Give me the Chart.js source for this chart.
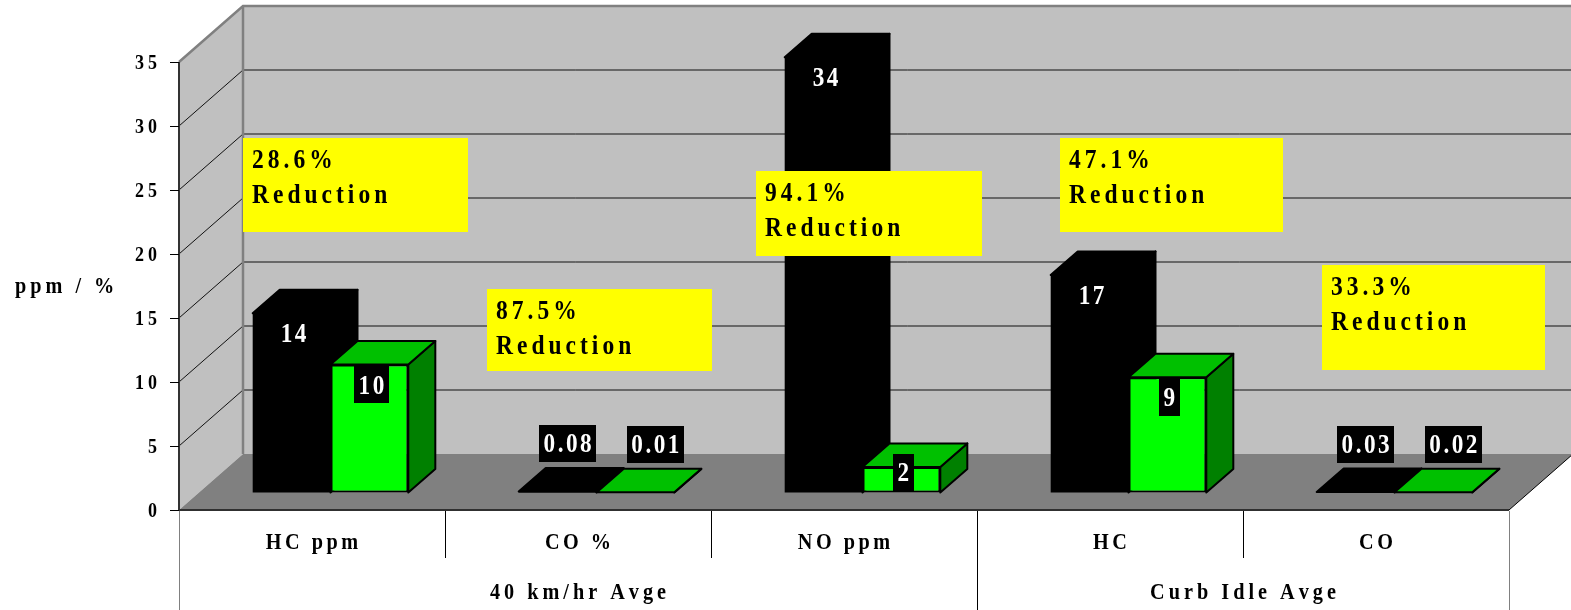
<!DOCTYPE html>
<html>
<head>
<meta charset="utf-8">
<script src="https://cdn.jsdelivr.net/npm/chart.js@4.4.1/dist/chart.umd.min.js"></script>
<style>
  html, body { margin: 0; padding: 0; background: #ffffff; }
  #wrap { width: 1571px; height: 610px; }
</style>
</head>
<body>
<div id="wrap"><canvas id="chart" width="1571" height="610"></canvas></div>
<script>
// ---- data ----
const categories = ['HC ppm', 'CO %', 'NO ppm', 'HC', 'CO'];
const groupLabels = ['40 km/hr Avge', 'Curb Idle Avge'];
const groupSizes = [3, 2];
const beforeValues = [14, 0.08, 34, 17, 0.03];
const afterValues = [10, 0.01, 2, 9, 0.02];
const yTickValues = [0, 5, 10, 15, 20, 25, 30, 35];
const yTitle = 'ppm / %';
const noteWord = 'Reduction';

// ---- geometry / style ----
const DEPTH = { x: 64, y: -56 };          // full depth of the box (floor / walls)
const BAR_SHIFT = { x: 18.5, y: -17.5 };  // bars stand part way into the box
const BAR_DEPTH = { x: 27, y: -23.5 };    // depth of each column
const WALL = '#C0C0C0';
const FLOOR = '#808080';
const SERIF = '"Liberation Serif", "Times New Roman", serif';

// placement of the yellow reduction notes (offset from category centre, top in axis units)
const notePlacement = [
  { dx: -69, top: 29.1, w: 225, h: 94 },
  { dx: -91, top: 17.25, w: 225, h: 82 },
  { dx: -88, top: 26.5, w: 226, h: 85 },
  { dx: -50, top: 29.1, w: 223, h: 94 },
  { dx: -54, top: 19.15, w: 223, h: 105 }
];

function path(ctx, pts) {
  ctx.beginPath();
  ctx.moveTo(pts[0][0], pts[0][1]);
  for (let i = 1; i < pts.length; i++) ctx.lineTo(pts[i][0], pts[i][1]);
  ctx.closePath();
}

function line(ctx, pts, color, width) {
  ctx.beginPath();
  ctx.moveTo(pts[0][0], pts[0][1]);
  for (let i = 1; i < pts.length; i++) ctx.lineTo(pts[i][0], pts[i][1]);
  ctx.strokeStyle = color;
  ctx.lineWidth = width;
  ctx.stroke();
}

// bold serif text with horizontal squeeze and letter spacing
function textWidth(ctx, text, o) {
  ctx.save();
  ctx.font = `bold ${o.size}px ${SERIF}`;
  const chars = Array.from(text);
  let w = 0;
  chars.forEach(c => { w += ctx.measureText(c).width * o.sx; });
  w += o.spacing * (chars.length - 1);
  ctx.restore();
  return w;
}

function drawText(ctx, text, x, y, o) {
  const total = textWidth(ctx, text, o);
  ctx.save();
  ctx.font = `bold ${o.size}px ${SERIF}`;
  ctx.fillStyle = o.color || '#000000';
  ctx.textAlign = 'left';
  ctx.textBaseline = 'alphabetic';
  let cx = o.align === 'center' ? x - total / 2 : (o.align === 'right' ? x - total : x);
  for (const c of Array.from(text)) {
    const w = ctx.measureText(c).width * o.sx;
    ctx.save();
    ctx.translate(cx, y);
    ctx.scale(o.sx, 1);
    ctx.fillText(c, 0, 0);
    ctx.restore();
    cx += w + o.spacing;
  }
  ctx.restore();
  return total;
}

function columnFaces(ctx, chart, dsIndex) {
  const ds = chart.data.datasets[dsIndex];
  const meta = chart.getDatasetMeta(dsIndex);
  meta.data.forEach(el => {
    const { x, y, base, width } = el.getProps(['x', 'y', 'base', 'width'], true);
    const l = x - width / 2, r = x + width / 2;
    const t = Math.min(y, base), b = Math.max(y, base);
    const dx = BAR_DEPTH.x, dy = BAR_DEPTH.y;
    ctx.save();
    ctx.lineWidth = 2;
    ctx.lineJoin = 'round';
    ctx.strokeStyle = ds.edgeColor;
    path(ctx, [[r, t], [r + dx, t + dy], [r + dx, b + dy], [r, b]]);
    ctx.fillStyle = ds.sideColor;
    ctx.fill();
    ctx.stroke();
    path(ctx, [[l, t], [l + dx, t + dy], [r + dx, t + dy], [r, t]]);
    ctx.fillStyle = ds.topColor;
    ctx.fill();
    ctx.stroke();
    ctx.restore();
  });
}

const box3d = {
  id: 'box3d',
  beforeDatasetsDraw(chart) {
    const { ctx, chartArea: a } = chart;
    const ys = chart.scales.y;
    const xs = chart.scales.x;
    const L = a.left, R = a.right, T = a.top, B = a.bottom;
    const dx = DEPTH.x, dy = DEPTH.y;

    ctx.save();
    // walls and floor
    ctx.fillStyle = WALL;
    path(ctx, [[L, T], [L + dx, T + dy], [L + dx, B + dy], [L, B]]);
    ctx.fill();
    path(ctx, [[L + dx, T + dy], [R + dx, T + dy], [R + dx, B + dy], [L + dx, B + dy]]);
    ctx.fill();
    ctx.fillStyle = FLOOR;
    path(ctx, [[L, B], [L + dx, B + dy], [R + dx, B + dy], [R, B]]);
    ctx.fill();

    // gridlines on side and back wall
    const maxV = ys.max;
    ys.ticks.forEach(t => {
      if (t.value <= 0 || t.value >= maxV) return;
      const py = ys.getPixelForValue(t.value);
      line(ctx, [[L, py], [L + dx, py + dy], [R + dx, py + dy]], '#111111', 1);
    });

    // wall outlines
    line(ctx, [[L, T], [L + dx, T + dy], [R + dx + 10, T + dy]], '#808080', 2.5);
    line(ctx, [[L + dx, T + dy], [L + dx, B + dy]], '#808080', 2.5);

    // value axis and its ticks
    line(ctx, [[L, T], [L, B]], '#333333', 2);
    ys.ticks.forEach(t => {
      const py = Math.round(ys.getPixelForValue(t.value)) + 0.5;
      line(ctx, [[L - 9, py], [L, py]], '#000000', 1);
    });

    // front edge of the floor and its right corner
    line(ctx, [[L, B], [R, B]], '#303030', 2);
    line(ctx, [[R, B], [R + dx, B + dy]], '#000000', 1);

    // category table lines below the floor
    const n = categories.length;
    const band = (R - L) / n;
    const groupEnds = [];
    let acc = 0;
    groupSizes.forEach(s => { acc += s; groupEnds.push(acc); });
    for (let k = 0; k <= n; k++) {
      const px = Math.round(xs.getPixelForValue(0) - band / 2 + k * band) + 0.5;
      const outer = (k === 0 || k === n);
      const long = outer || groupEnds.includes(k);
      line(ctx, [[px, B + 1], [px, long ? chart.height : B + 48]], outer ? '#808080' : '#000000', 1);
    }
    ctx.restore();

    // columns stand inside the box
    ctx.save();
    ctx.translate(BAR_SHIFT.x, BAR_SHIFT.y);
    for (let i = 0; i < chart.data.datasets.length - 1; i++) columnFaces(ctx, chart, i);
  },
  afterDatasetsDraw(chart) {
    const { ctx, chartArea: a } = chart;
    columnFaces(ctx, chart, chart.data.datasets.length - 1);
    ctx.restore();

    const xs = chart.scales.x, ys = chart.scales.y;

    // value labels
    chart.data.datasets.forEach((ds, di) => {
      chart.getDatasetMeta(di).data.forEach((el, i) => {
        const { x, y, base } = el.getProps(['x', 'y', 'base'], true);
        const v = ds.data[i];
        const h = base - y;
        let cx, cy;
        if (h >= 20) {
          cx = x + 2;
          cy = y + Math.min(20, h * 0.2);
        } else {
          cx = x + 10 + di * 10;
          cy = y - 48;
        }
        cx += BAR_SHIFT.x;
        cy += BAR_SHIFT.y;
        const txt = String(v);
        const o = { size: 27, sx: 0.86, spacing: 2.5, color: '#ffffff', align: 'center' };
        const w = textWidth(ctx, txt, o) + 9;
        ctx.fillStyle = '#000000';
        ctx.fillRect(Math.round(cx - w / 2), Math.round(cy - 18.5), Math.round(w), 37);
        drawText(ctx, txt, cx, cy + 9, o);
      });
    });

    // reduction notes
    categories.forEach((c, i) => {
      const p = notePlacement[i];
      const b = beforeValues[i], af = afterValues[i];
      const pct = ((b - af) / b * 100).toFixed(1) + '%';
      const left = xs.getPixelForValue(i) + p.dx;
      const top = ys.getPixelForValue(p.top);
      ctx.fillStyle = '#FFFF00';
      ctx.fillRect(Math.round(left), Math.round(top), p.w, p.h);
      const o = { size: 28, sx: 0.84, spacing: 4, color: '#000000', align: 'left' };
      drawText(ctx, pct, left + 9, top + 30, o);
      drawText(ctx, noteWord, left + 9, top + 65, o);
    });

    // value axis labels and title
    ys.ticks.forEach(t => {
      const py = ys.getPixelForValue(t.value);
      drawText(ctx, String(t.value), a.left - 22, py + 7, { size: 20, sx: 0.9, spacing: 4, align: 'right' });
    });
    drawText(ctx, yTitle, 15, (a.top + a.bottom) / 2 + 7, { size: 23, sx: 0.88, spacing: 4, align: 'left' });

    // category and group labels
    categories.forEach((c, i) => {
      drawText(ctx, c, xs.getPixelForValue(i), a.bottom + 39, { size: 23, sx: 0.88, spacing: 3.5, align: 'center' });
    });
    let start = 0;
    groupLabels.forEach((g, gi) => {
      const end = start + groupSizes[gi] - 1;
      const cx = (xs.getPixelForValue(start) + xs.getPixelForValue(end)) / 2;
      drawText(ctx, g, cx, a.bottom + 89, { size: 23, sx: 0.88, spacing: 4, align: 'center' });
      start = end + 1;
    });
  }
};

new Chart(document.getElementById('chart').getContext('2d'), {
  type: 'bar',
  data: {
    labels: categories,
    datasets: [
      {
        label: 'Before',
        data: beforeValues,
        backgroundColor: '#000000',
        borderColor: '#000000',
        borderWidth: 0,
        inflateAmount: 0,
        topColor: '#000000',
        sideColor: '#000000',
        edgeColor: '#000000'
      },
      {
        label: 'After',
        data: afterValues,
        backgroundColor: '#00FF00',
        borderColor: '#000000',
        borderWidth: 2,
        borderSkipped: false,
        inflateAmount: 0,
        topColor: '#00C000',
        sideColor: '#008000',
        edgeColor: '#000000'
      }
    ]
  },
  options: {
    responsive: false,
    animation: false,
    devicePixelRatio: 1,
    layout: { padding: { left: 179, right: 62, top: 62, bottom: 100 } },
    datasets: { bar: { categoryPercentage: 0.585, barPercentage: 1.0, clip: false } },
    plugins: { legend: { display: false }, tooltip: { enabled: false } },
    scales: {
      x: { display: false, offset: true },
      y: {
        display: false,
        min: 0,
        max: 35,
        ticks: { stepSize: 5 },
        afterBuildTicks: s => { s.ticks = yTickValues.map(v => ({ value: v })); }
      }
    }
  },
  plugins: [box3d]
});
</script>
</body>
</html>
